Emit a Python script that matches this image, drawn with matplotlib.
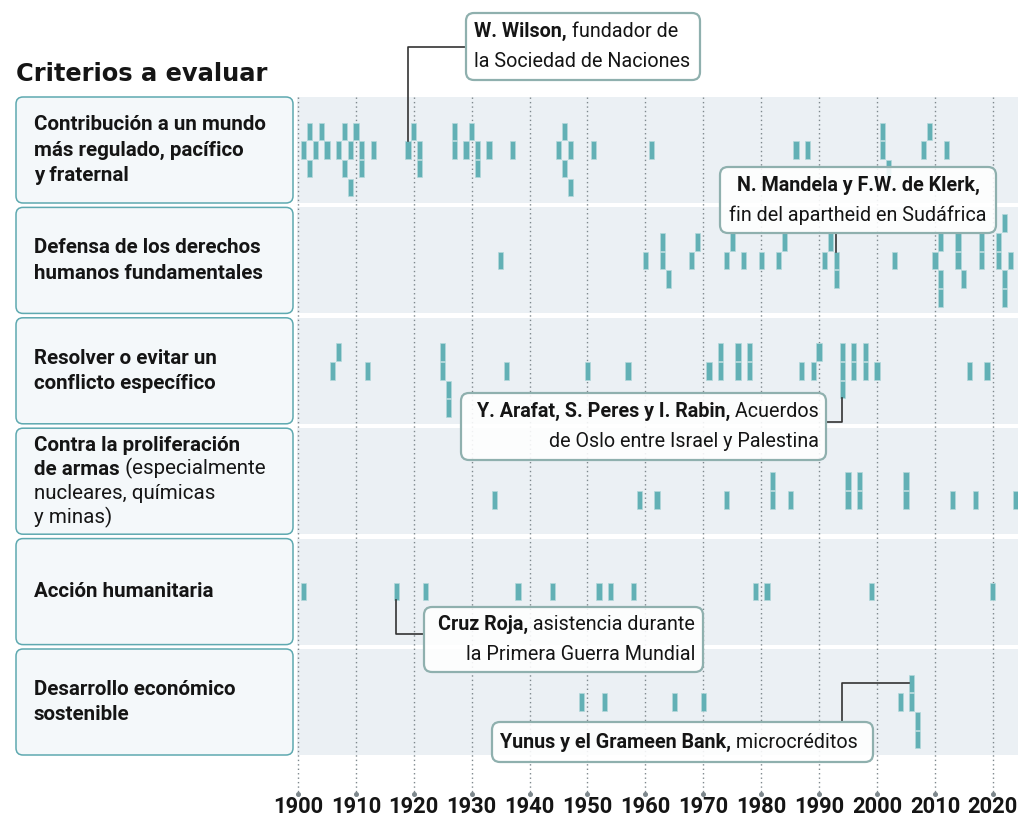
import matplotlib
matplotlib.use('Agg')
import matplotlib.pyplot as plt
from matplotlib.patches import FancyBboxPatch, Rectangle
from matplotlib.transforms import Affine2D

# Premios Nobel de la Paz por criterio (un valor por galardonado)
criterios = [
    [[("Contribución a un mundo", "bold")], [("más regulado, pacífico", "bold")], [("y fraternal", "bold")]],
    [[("Defensa de los derechos", "bold")], [("humanos fundamentales", "bold")]],
    [[("Resolver o evitar un", "bold")], [("conflicto específico", "bold")]],
    [[("Contra la proliferación", "bold")], [("de armas", "bold"), (" (especialmente", "normal")],
     [("nucleares, químicas", "normal")], [("y minas)", "normal")]],
    [[("Acción humanitaria", "bold")]],
    [[("Desarrollo económico", "bold")], [("sostenible", "bold")]],
]

contribucion = [1901, 1902, 1902, 1903, 1904, 1905, 1907, 1908, 1908, 1909, 1909, 1910,
                1911, 1911, 1913, 1919, 1920, 1921, 1921, 1927, 1927, 1929, 1930, 1931,
                1931, 1933, 1937, 1945, 1946, 1946, 1947, 1947, 1951, 1961, 1986, 1988,
                2001, 2001, 2002, 2008, 2009, 2012]
derechos = [1935, 1960, 1963, 1963, 1964, 1968, 1969, 1974, 1975, 1977, 1980, 1983,
            1984, 1991, 1992, 1993, 1993, 2003, 2010, 2011, 2011, 2011, 2014, 2014,
            2015, 2018, 2018, 2021, 2021, 2022, 2022, 2022, 2023]
conflicto = [1906, 1907, 1912, 1925, 1925, 1926, 1926, 1936, 1950, 1957, 1971, 1973,
             1973, 1976, 1976, 1978, 1978, 1987, 1989, 1990, 1994, 1994, 1994, 1996,
             1996, 1998, 1998, 2000, 2016, 2019]
armas = [1934, 1959, 1962, 1974, 1982, 1982, 1985, 1995, 1995, 1997, 1997, 2005, 2005,
         2013, 2017, 2024]
humanitaria = [1901, 1917, 1922, 1938, 1944, 1952, 1954, 1958, 1979, 1981, 1999, 2020]
desarrollo = [1949, 1953, 1965, 1970, 2004, 2006, 2006, 2007, 2007]

series = [contribucion, derechos, conflicto, armas, humanitaria, desarrollo]
decadas = list(range(1900, 2021, 10))

# layout (pixels)
W, H = 1018, 819
X1900, PPY = 298, 5.79
ROW_TOP, ROW_STEP, ROW_H = 97, 110.4, 106
MARK_H, LEVEL = 17.6, 18.7
row_shift = [0, 0, 0, -1, 0, 0]

TEAL = '#62b0b5'
INK = '#151515'
FONT = ['Roboto', 'DejaVu Sans']

fig = plt.figure(figsize=(W / 100, H / 100), dpi=100)
ax = fig.add_axes([0, 0, 1, 1])
ax.set_xlim(1900 - X1900 / PPY, 1900 + (W - X1900) / PPY)
ax.set_ylim(H, 0)
ax.axis('off')
PX = Affine2D().scale(1 / W, -1 / H).translate(0, 1) + fig.transFigure


def yr2px(y):
    return X1900 + (y - 1900) * PPY


def swarm(years):
    order = [0, 1, -1, -2, 2, 3, -3]
    placed, levels = [], []
    for y in years:
        for lv in order:
            if all(not (l == lv and abs(p - y) <= 1) for p, l in placed):
                break
        placed.append((y, lv))
        levels.append(lv)
    return levels


def rich(lines, x, y, ha='left', size=13, gap=25, z=6):
    n = len(lines)
    kw = dict(size=size, color=INK, family=FONT, zorder=z, annotation_clip=False)
    for k, segs in enumerate(lines):
        yy = y + (k - (n - 1) / 2) * gap
        segs = segs if ha != 'right' else segs[::-1]
        prev = None
        for txt, wt in segs:
            if prev is None:
                prev = ax.annotate(txt, xy=(x, yy), xycoords=PX, ha=ha, va='center', weight=wt, **kw)
            elif ha == 'left':
                prev = ax.annotate(txt, xy=(1, 0), xycoords=prev, ha='left', va='bottom', weight=wt, **kw)
            else:
                prev = ax.annotate(txt, xy=(0, 0), xycoords=prev, ha='right', va='bottom', weight=wt, **kw)


def box(x0, y0, x1, y1, fc, ec, lw, r, z):
    ax.add_patch(FancyBboxPatch((x0, y0), x1 - x0, y1 - y0,
                                boxstyle=f'round,pad=0,rounding_size={r}',
                                transform=PX, fc=fc, ec=ec, lw=lw, zorder=z, clip_on=False))


# title
ax.text(16, 81, "Criterios a evaluar", transform=PX, family='DejaVu Sans',
        weight='bold', size=17.4, color=INK, va='baseline')

# gridlines and year labels
for d in decadas:
    ax.plot([d, d], [ROW_TOP, 794], color='#7d878c', lw=1.0, ls=(0, (1, 2.2)), zorder=2)
    ax.plot([d], [794], marker='o', ms=2.6, color='#7d878c', zorder=2)
    ax.text(d, 807, str(d), ha='center', va='center', size=15.8, weight='bold',
            family=FONT, color=INK)

mark_pos = []
for i, (lab, yrs) in enumerate(zip(criterios, series)):
    top = ROW_TOP + i * ROW_STEP
    ax.add_patch(Rectangle((297, top), W - 297, ROW_H, transform=PX, fc='#ebf0f4',
                           ec='none', zorder=0, clip_on=False))
    box(16, top, 293, top + ROW_H, '#f4f8fa', '#5ea9b0', 1.1, 7, 1)
    rich(lab, 34, top + ROW_H / 2, size=14.8, gap=25.5 if len(lab) < 4 else 24)
    center = top + ROW_H / 2
    lv = swarm(yrs)
    ys = [center - (l + row_shift[i]) * LEVEL for l in lv]
    ax.bar(yrs, MARK_H, bottom=[v - MARK_H / 2 for v in ys], width=0.9, color=TEAL,
           edgecolor='#b3d9db', linewidth=0.5, zorder=3)
    mark_pos.append(list(zip(yrs, ys)))


def marks(row, year):
    return [v for y, v in mark_pos[row] if y == year]


LINE = dict(color='#333333', lw=1.2, zorder=4, transform=PX, solid_joinstyle='round')
BOX_FC, BOX_EC = (1, 1, 1, 0.88), '#8fb0ae'
ANN = 14.2

# W. Wilson
mx = yr2px(1919)
my = min(marks(0, 1919)) - MARK_H / 2
ax.plot([mx, mx, 466], [my, 47, 47], **LINE)
box(466, 13, 700, 80, BOX_FC, BOX_EC, 1.6, 8, 5)
rich([[("W. Wilson,", "bold"), (" fundador de", "normal")],
      [("la Sociedad de Naciones", "normal")]], 474, 46.5, size=ANN, gap=30)

# Mandela
mx = yr2px(1993)
my = min(marks(1, 1993)) - MARK_H / 2
ax.plot([mx, mx], [233, my], **LINE)
box(720, 167, 996, 233, BOX_FC, BOX_EC, 1.6, 8, 5)
rich([[("N. Mandela y F.W. de Klerk,", "bold")],
      [("fin del apartheid en Sudáfrica", "normal")]], 858, 200, ha='center', size=ANN, gap=30)

# Arafat, Peres, Rabin
mx = yr2px(1994)
my = max(marks(2, 1994)) + MARK_H / 2
ax.plot([mx, mx, 826], [my, 422, 422], **LINE)
box(461, 393, 826, 460, BOX_FC, BOX_EC, 1.6, 8, 5)
rich([[("Y. Arafat, S. Peres y I. Rabin,", "bold"), (" Acuerdos", "normal")],
      [("de Oslo entre Israel y Palestina", "normal")]], 819, 426.5, ha='right', size=ANN, gap=30)

# Cruz Roja
mx = yr2px(1917)
my = max(marks(4, 1917)) + MARK_H / 2
ax.plot([mx, mx, 424], [my, 634, 634], **LINE)
box(424, 607, 703, 672, BOX_FC, BOX_EC, 1.6, 8, 5)
rich([[("Cruz Roja,", "bold"), (" asistencia durante", "normal")],
      [("la Primera Guerra Mundial", "normal")]], 695, 639.5, ha='right', size=ANN, gap=30)

# Yunus
mx = yr2px(2006) - PPY * 0.45
my = min(marks(5, 2006))
ax.plot([mx, 842, 842], [my, my, 722], **LINE)
box(492, 722, 873, 762, BOX_FC, BOX_EC, 1.6, 8, 5)
rich([[("Yunus y el Grameen Bank,", "bold"), (" microcréditos", "normal")]],
     500, 742, size=ANN)

fig.savefig('out.png', dpi=100)
